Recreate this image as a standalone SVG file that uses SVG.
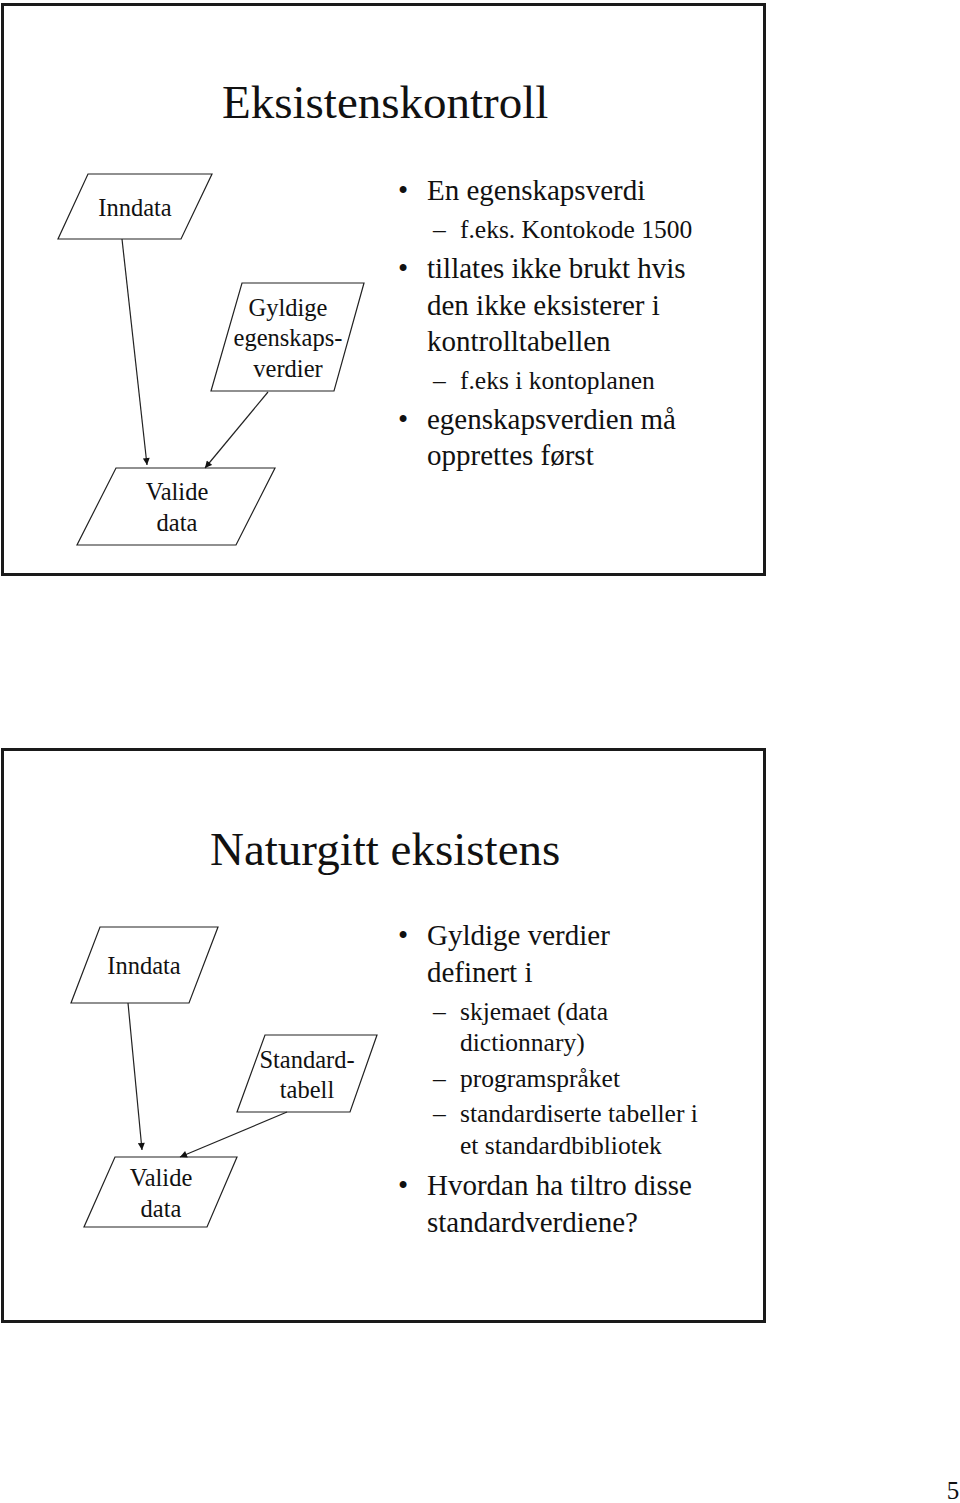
<svg xmlns="http://www.w3.org/2000/svg" width="960" height="1503" viewBox="0 0 960 1503">
<style>
.frame{fill:none;stroke:#1a1a1a;stroke-width:3}
.node{fill:#fff;stroke:#222;stroke-width:1.2}
.t{font-family:"Liberation Serif","Times New Roman",serif;fill:#111}
.title{font-size:47px}
.lbl{font-size:24.5px;text-anchor:middle}
.b1{font-size:29px}
.b2{font-size:25.5px}
.bul{font-size:29px;text-anchor:middle}
.conn{fill:none;stroke:#222;stroke-width:1.2}
</style>
<defs>
<marker id="ah" viewBox="0 0 10 10" refX="10" refY="5" markerWidth="8" markerHeight="7" markerUnits="userSpaceOnUse" orient="auto">
<path d="M0,0 L10,5 L0,10 z" fill="#111"/>
</marker>
</defs>
<rect width="960" height="1503" fill="#fff"/>

<!-- Slide 1 -->
<rect class="frame" x="2.5" y="4.5" width="762" height="570"/>
<text class="t title" x="222" y="118">Eksistenskontroll</text>

<g id="inndata1">
<polygon class="node" points="88,174 212,174 181,239 58,239"/>
<text class="t lbl" x="135" y="216">Inndata</text>
</g>
<g id="gyldige1">
<polygon class="node" points="242,283 364,283 334,391 211,391"/>
<text class="t lbl" x="288" y="316">Gyldige</text>
<text class="t lbl" x="288" y="346">egenskaps-</text>
<text class="t lbl" x="288" y="377">verdier</text>
</g>
<g id="valide1">
<polygon class="node" points="116,468 275,468 236,545 77,545"/>
<text class="t lbl" x="177" y="500">Valide</text>
<text class="t lbl" x="177" y="531">data</text>
</g>

<g id="text1">
<text class="t bul" x="403" y="200">•</text>
<text class="t b1" x="427" y="200">En egenskapsverdi</text>
<text class="t b2" x="433" y="238">–</text>
<text class="t b2" x="460" y="238">f.eks. Kontokode 1500</text>
<text class="t bul" x="403" y="278">•</text>
<text class="t b1" x="427" y="278">tillates ikke brukt hvis</text>
<text class="t b1" x="427" y="315">den ikke eksisterer i</text>
<text class="t b1" x="427" y="351">kontrolltabellen</text>
<text class="t b2" x="433" y="389">–</text>
<text class="t b2" x="460" y="389">f.eks i kontoplanen</text>
<text class="t bul" x="403" y="429">•</text>
<text class="t b1" x="427" y="429">egenskapsverdien må</text>
<text class="t b1" x="427" y="465">opprettes først</text>
</g>

<!-- Slide 2 -->
<rect class="frame" x="2.5" y="749.5" width="762" height="572"/>
<text class="t title" x="210" y="865">Naturgitt eksistens</text>

<g id="inndata2">
<polygon class="node" points="100,927 218,927 189,1003 71,1003"/>
<text class="t lbl" x="144" y="974">Inndata</text>
</g>
<g id="standardtabell">
<polygon class="node" points="265,1035 377,1035 350,1112 237,1112"/>
<text class="t lbl" x="307" y="1068">Standard-</text>
<text class="t lbl" x="307" y="1098">tabell</text>
</g>
<g id="valide2">
<polygon class="node" points="115,1157 237,1157 207,1227 84,1227"/>
<text class="t lbl" x="161" y="1186">Valide</text>
<text class="t lbl" x="161" y="1217">data</text>
</g>

<g id="text2">
<text class="t bul" x="403" y="945">•</text>
<text class="t b1" x="427" y="945">Gyldige verdier</text>
<text class="t b1" x="427" y="982">definert i</text>
<text class="t b2" x="433" y="1020">–</text>
<text class="t b2" x="460" y="1020">skjemaet (data</text>
<text class="t b2" x="460" y="1051">dictionnary)</text>
<text class="t b2" x="433" y="1087">–</text>
<text class="t b2" x="460" y="1087">programspråket</text>
<text class="t b2" x="433" y="1122">–</text>
<text class="t b2" x="460" y="1122">standardiserte tabeller i</text>
<text class="t b2" x="460" y="1154">et standardbibliotek</text>
<text class="t bul" x="403" y="1195">•</text>
<text class="t b1" x="427" y="1195">Hvordan ha tiltro disse</text>
<text class="t b1" x="427" y="1232">standardverdiene?</text>
</g>

<g id="connectors">
<line class="conn" x1="122" y1="239" x2="147" y2="465" marker-end="url(#ah)"/>
<line class="conn" x1="268" y1="392" x2="205" y2="468" marker-end="url(#ah)"/>
<line class="conn" x1="128" y1="1003" x2="142" y2="1150" marker-end="url(#ah)"/>
<line class="conn" x1="287" y1="1112" x2="180" y2="1157" marker-end="url(#ah)"/>
</g>

<text class="t" x="953" y="1499" font-size="25" text-anchor="middle">5</text>
</svg>
